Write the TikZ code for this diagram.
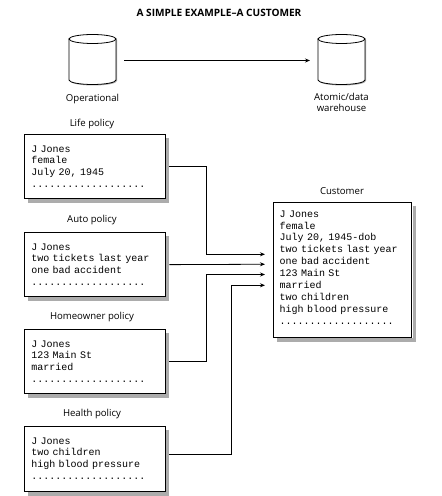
\documentclass[tikz,border=0pt]{standalone}
\usepackage{fontspec}
\setmainfont{Open Sans}
\newfontfamily\boxmono{Liberation Mono}
\usetikzlibrary{calc,arrows.meta}
\definecolor{shadowgray}{HTML}{ACACAC}
\tikzset{
  x=1pt,y=1pt,
  captext/.style={font=\fontsize{9.6}{12}\selectfont,align=center,inner sep=0pt,text=black},
  titletext/.style={font=\bfseries\fontsize{10.1}{12}\selectfont,inner sep=0pt},
  recbox/.style={draw=black,line width=0.8pt,minimum width=141pt,inner sep=0pt,
     font=\boxmono\fontsize{10}{11.5}\selectfont},
  drumbody/.style={minimum width=47pt,minimum height=41pt,inner sep=0pt,outer sep=0pt},
  drumline/.style={draw=black,line width=0.8pt,fill=white},
  boxshadow/.style={fill=shadowgray},
  shadowband/.style={draw=shadowgray,line width=3.6pt,line cap=butt,line join=miter},
  link/.style={draw=black,line width=0.8pt},
  flow/.style={link,-{Stealth[length=5pt,width=4pt]}},
}
\newcommand{\castshadow}[1]{%
  \draw[shadowband] ($(#1.north east)+(2.2,-4)$) -- ($(#1.south east)+(2.2,-2.2)$) -- ($(#1.south west)+(4,-2.2)$);
}
\newcommand{\drumshape}[1]{%
  \fill[boxshadow] ($(#1.north west)+(1,-1)$) -- ($(#1.south west)+(1,-1)$)
     arc[x radius=23.5pt,y radius=4.5pt,start angle=180,end angle=360] -- ($(#1.north east)+(1,-1)$) -- cycle;
  \draw[drumline] (#1.north west) -- (#1.south west)
     arc[x radius=23.5pt,y radius=4.5pt,start angle=180,end angle=360] -- (#1.north east) -- cycle;
  \draw[drumline] (#1.north) ellipse[x radius=23.5pt,y radius=4.5pt];
}
\begin{document}
\begin{tikzpicture}
\useasboundingbox (0,0) rectangle (442,496);
\fill[white] (0,0) rectangle (442,496);
\node[titletext] (title) at (219,483.5) {A SIMPLE EXAMPLE--A CUSTOMER};

\node[drumbody] (op) at (92.5,436.5) {};
\node[drumbody] (wh) at (341.5,436.5) {};
\drumshape{op}
\drumshape{wh}
\draw[flow,shorten <=8pt,shorten >=8pt] (op.east |- 0,435.5) -- (wh.west |- 0,435.5);
\node[captext] (oplabel) at (92.5,396.5) {Operational};
\node[captext,anchor=north] (whlabel) at (341.5,402.5) {Atomic/data\\[-1pt]warehouse};

\node[captext] (lifecap) at (92,372) {Life policy};
\node[captext] (autocap) at (92,276) {Auto policy};
\node[captext] (homecap) at (92,179) {Homeowner policy};
\node[captext] (healthcap) at (92,82) {Health policy};
\node[captext] (custcap) at (342,304.5) {Customer};

\node[recbox,minimum height=63.5pt,anchor=north west,text width=126pt,align=left] (life) at (23.5,361.5)
  {J Jones\\female\\July 20, 1945\\[1pt]...................};
\node[recbox,minimum height=63.5pt,anchor=north west,text width=126pt,align=left] (auto) at (23.5,263.5)
  {J Jones\\two tickets last year\\one bad accident\\[1pt]...................};
\node[recbox,minimum height=63.5pt,anchor=north west,text width=126pt,align=left] (home) at (23.5,166.5)
  {J Jones\\123 Main St\\married\\[1pt]...................};
\node[recbox,minimum height=65pt,anchor=north west,text width=126pt,align=left] (health) at (23.5,70)
  {J Jones\\two children\\high blood pressure\\[1pt]...................};
\node[recbox,minimum width=138pt,minimum height=135.5pt,anchor=north west,text width=128pt,align=left,
      font=\boxmono\fontsize{10}{11.9}\selectfont,execute at begin node={\leftskip=1pt\relax}] (cust) at (273.3,294.2)
  {J Jones\\female\\July 20, 1945-dob\\two tickets last year\\one bad accident\\123 Main St\\married\\two children\\high blood pressure\\...................\rule[-5pt]{0pt}{5pt}};

\castshadow{life}
\castshadow{auto}
\castshadow{home}
\castshadow{health}
\castshadow{cust}

\coordinate (a1) at (265,241.7);
\coordinate (a2) at (265,231.75);
\coordinate (a3) at (265,221.5);
\coordinate (a4) at (265,210.7);
\coordinate (j1) at (206.5,241.7);
\coordinate (j3) at (206.5,221.5);
\coordinate (j4) at (231.7,210.7);
\draw[flow] ($(life.east)+(4,0)$) -| (j1) -- (a1);
\draw[flow] ($(auto.east)+(4,0)$) -- (a2);
\draw[flow] ($(home.east)+(4,0)$) -| (j3) -- (a3);
\draw[flow] ($(health.east)+(4,4)$) -| (j4) -- (a4);
\end{tikzpicture}
\end{document}
